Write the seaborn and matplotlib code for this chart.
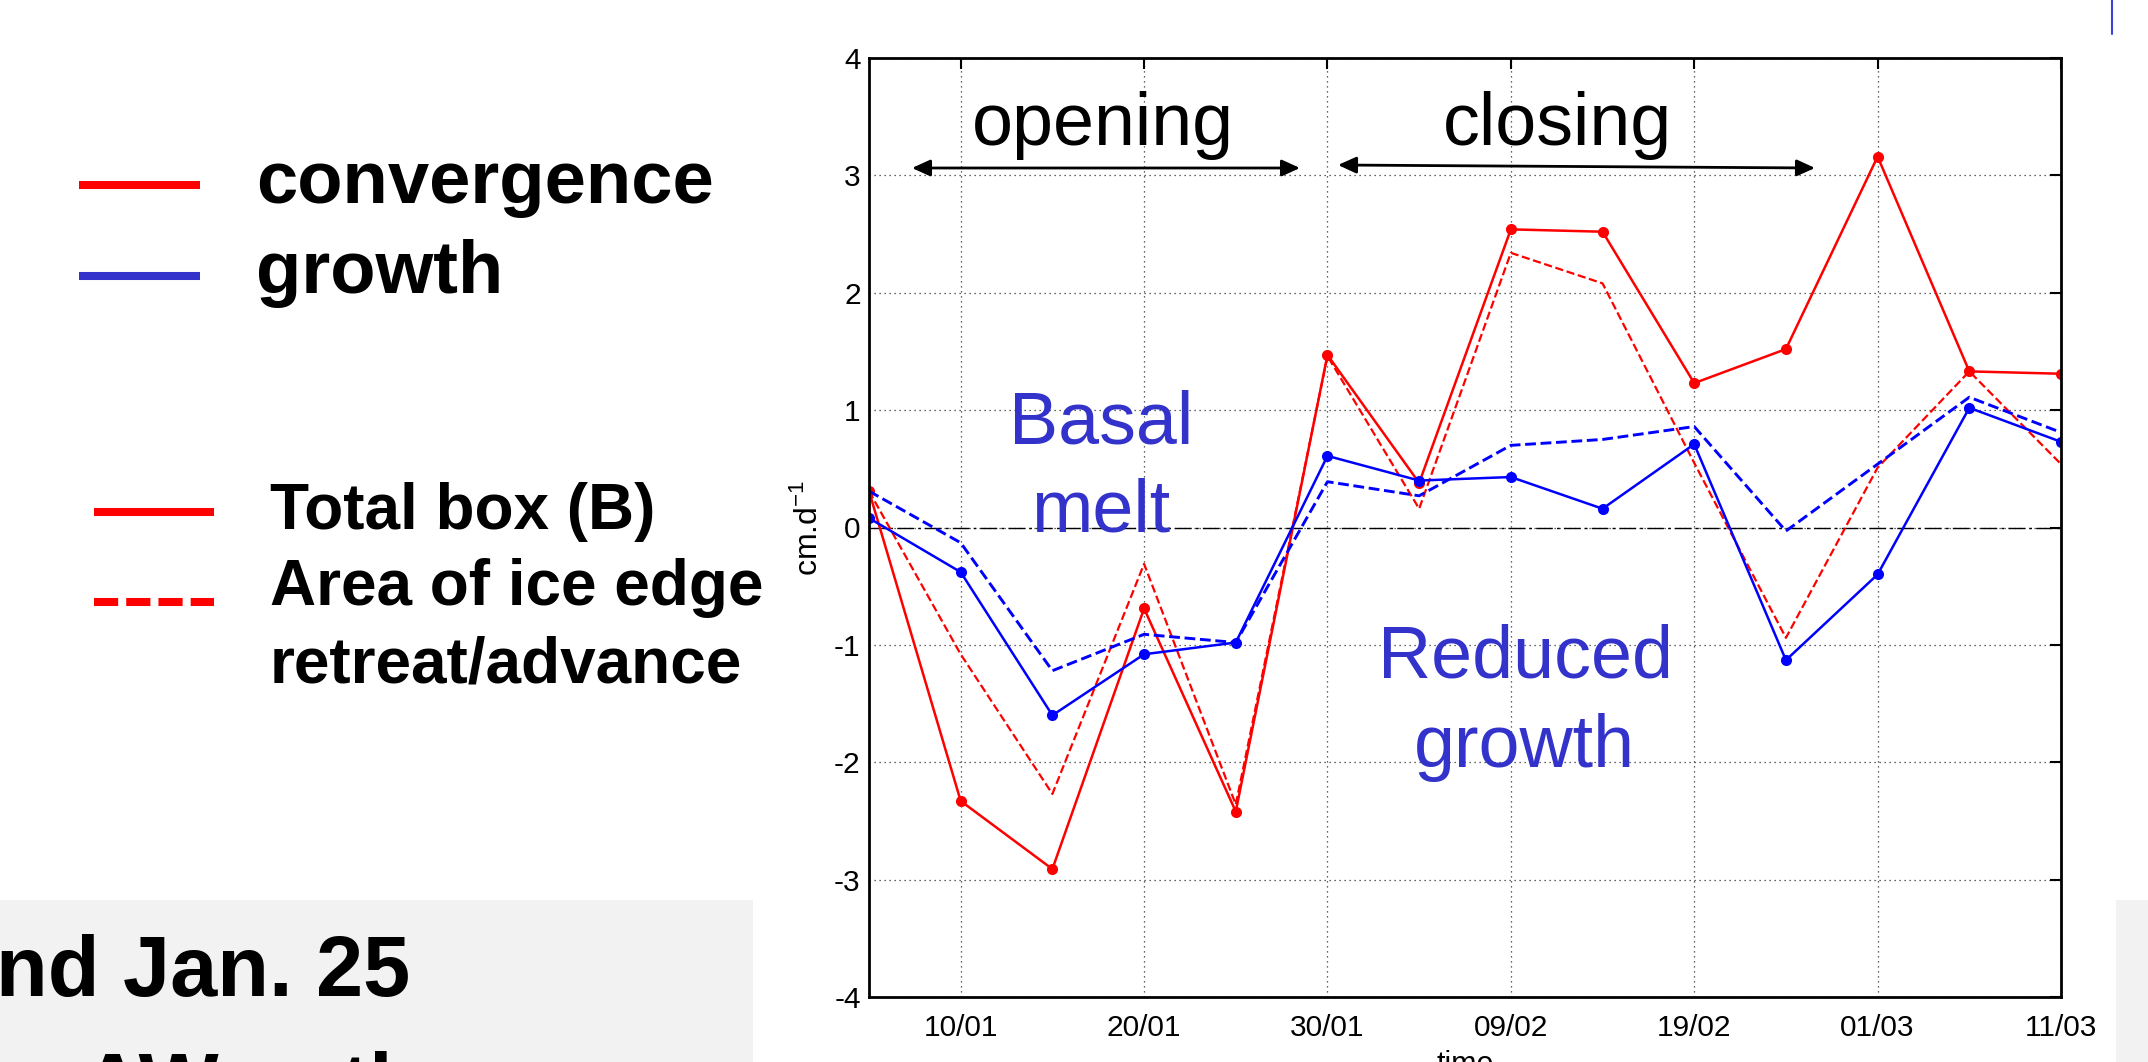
import matplotlib
matplotlib.use('Agg')
import matplotlib.pyplot as plt
import matplotlib.dates as mdates
from matplotlib.lines import Line2D
from matplotlib.patches import Rectangle
import pandas as pd
import seaborn as sns

# 5-day time steps (non-leap year so 19/02 + 10 days = 01/03)
dates = ['2007-01-05', '2007-01-10', '2007-01-15', '2007-01-20', '2007-01-25',
         '2007-01-30', '2007-02-04', '2007-02-09', '2007-02-14', '2007-02-19',
         '2007-02-24', '2007-03-01', '2007-03-06', '2007-03-11']

# convergence (red), total box and ice edge area
conv_total = [0.31, -2.33, -2.91, -0.69, -2.42, 1.47, 0.38, 2.54, 2.52, 1.23, 1.52, 3.16, 1.33, 1.31]
conv_edge = [0.31, -1.08, -2.27, -0.31, -2.36, 1.46, 0.16, 2.34, 2.08, 0.55, -0.94, 0.51, 1.33, 0.54]

# growth (blue), total box and ice edge area
growth_total = [0.08, -0.38, -1.60, -1.08, -0.98, 0.61, 0.40, 0.43, 0.16, 0.71, -1.13, -0.40, 1.02, 0.73]
growth_edge = [0.31, -0.13, -1.22, -0.91, -0.98, 0.39, 0.27, 0.70, 0.75, 0.86, -0.03, 0.54, 1.11, 0.81]

tick_dates = ['2007-01-10', '2007-01-20', '2007-01-30', '2007-02-09',
              '2007-02-19', '2007-03-01', '2007-03-11']
y_ticks = [-4, -3, -2, -1, 0, 1, 2, 3, 4]

RED = '#ff0000'
BLUE = '#0000ff'
SLIDE_BLUE = '#3333cc'

sns.set_theme(style='white')
plt.rcParams['font.family'] = ['Liberation Sans', 'DejaVu Sans']
plt.rcParams['axes.unicode_minus'] = False
plt.rcParams.update({'text.color': 'black', 'axes.labelcolor': 'black',
                     'xtick.color': 'black', 'ytick.color': 'black'})

df = pd.DataFrame({'date': pd.to_datetime(dates),
                   'conv_total': conv_total, 'conv_edge': conv_edge,
                   'growth_total': growth_total, 'growth_edge': growth_edge})

W, H = 2148, 1062
fig = plt.figure(figsize=(W / 100, H / 100), dpi=100)
fig.patch.set_facecolor('white')


def fx(px):
    return px / W


def fy(py):
    return 1 - py / H


# slide decorations
fig.patches.append(Rectangle((0, 0), fx(753), (H - 900) / H, transform=fig.transFigure,
                             facecolor='#f2f2f2', edgecolor='none', zorder=0))
fig.patches.append(Rectangle((fx(2116), 0), fx(W - 2116), (H - 900) / H, transform=fig.transFigure,
                             facecolor='#f2f2f2', edgecolor='none', zorder=0))
fig.add_artist(Line2D([fx(2112), fx(2112)], [fy(0), fy(34)], color='#4040dd', lw=1.5))

ax = fig.add_axes([fx(869), fy(997), fx(2061 - 869), (997 - 58) / H])

# zero line and grid
ax.grid(True, linestyle=(0, (1, 3)), color='#333333', lw=0.9)
ax.axhline(0, color='black', lw=1, linestyle=(0, (12, 3, 2, 3)), zorder=1)

sns.lineplot(data=df, x='date', y='conv_edge', color=RED, lw=1.6, linestyle='--', ax=ax)
sns.lineplot(data=df, x='date', y='conv_total', color=RED, lw=1.8, marker='o',
             markersize=8, markeredgewidth=0, ax=ax)
sns.lineplot(data=df, x='date', y='growth_edge', color=BLUE, lw=2.1, linestyle='--', ax=ax)
sns.lineplot(data=df, x='date', y='growth_total', color=BLUE, lw=1.8, marker='o',
             markersize=8, markeredgewidth=0, ax=ax)

ax.set_xlim(pd.Timestamp('2007-01-05'), pd.Timestamp('2007-03-11'))
ax.set_ylim(-4, 4)
ax.set_xticks(pd.to_datetime(tick_dates))
ax.xaxis.set_major_formatter(mdates.DateFormatter('%d/%m'))
ax.set_yticks(y_ticks)
ax.tick_params(axis='both', labelsize=21.5, direction='in', top=True, right=True,
               length=8, width=1.5, colors='black')
ax.tick_params(axis='x', pad=12)
ax.tick_params(axis='y', pad=6)
for s in ax.spines.values():
    s.set_visible(True)
    s.set_color('black')
    s.set_linewidth(2)

ax.set_xlabel('time', fontsize=22, labelpad=6)
ax.set_ylabel('cm.d$^{\\mathregular{-1}}$', fontsize=23, labelpad=7)

# phase arrows and labels
arrow = dict(arrowstyle='<|-|>,head_length=0.55,head_width=0.25', color='black', lw=2,
             mutation_scale=20, shrinkA=0, shrinkB=0)
ax.annotate('', xy=(fx(1300), fy(168)), xytext=(fx(912), fy(168)),
            xycoords='figure fraction', textcoords='figure fraction', arrowprops=arrow)
ax.annotate('', xy=(fx(1815), fy(168)), xytext=(fx(1338), fy(165)),
            xycoords='figure fraction', textcoords='figure fraction', arrowprops=arrow)
fig.text(fx(1103), fy(145), 'opening', fontsize=53, ha='center', va='baseline')
fig.text(fx(1558), fy(145), 'closing', fontsize=53, ha='center', va='baseline')

fig.text(fx(1101), fy(443), 'Basal', fontsize=53, color=SLIDE_BLUE, ha='center', va='baseline')
fig.text(fx(1101), fy(532), 'melt', fontsize=53, color=SLIDE_BLUE, ha='center', va='baseline')
fig.text(fx(1525), fy(677), 'Reduced', fontsize=53, color=SLIDE_BLUE, ha='center', va='baseline')
fig.text(fx(1524), fy(767), 'growth', fontsize=53, color=SLIDE_BLUE, ha='center', va='baseline')

# slide legend on the left
fig.add_artist(Line2D([fx(79), fx(200)], [fy(185)] * 2, color=RED, lw=5.8, solid_capstyle='butt'))
fig.add_artist(Line2D([fx(79), fx(200)], [fy(276)] * 2, color=SLIDE_BLUE, lw=5.8, solid_capstyle='butt'))
fig.text(fx(256), fy(203), 'convergence', fontsize=53.5, fontweight='bold', va='baseline')
fig.text(fx(256), fy(293), 'growth', fontsize=53.5, fontweight='bold', va='baseline')

fig.add_artist(Line2D([fx(94), fx(214)], [fy(512)] * 2, color=RED, lw=5.8, solid_capstyle='butt'))
fig.add_artist(Line2D([fx(94), fx(214)], [fy(602)] * 2, color=RED, lw=5.8,
                      linestyle=(0, (3, 1)), dash_capstyle='butt'))
fig.text(fx(270), fy(529), 'Total box (B)', fontsize=46, fontweight='bold', va='baseline')
fig.text(fx(270), fy(605), 'Area of ice edge', fontsize=46, fontweight='bold', va='baseline')
fig.text(fx(270), fy(682), 'retreat/advance', fontsize=46, fontweight='bold', va='baseline')

fig.text(fx(-4), fy(996), 'nd Jan. 25', fontsize=61, fontweight='bold', va='baseline')
fig.text(fx(82), fy(1113), 'AW path', fontsize=61, fontweight='bold', va='baseline')

fig.savefig('out.png', dpi=100)
